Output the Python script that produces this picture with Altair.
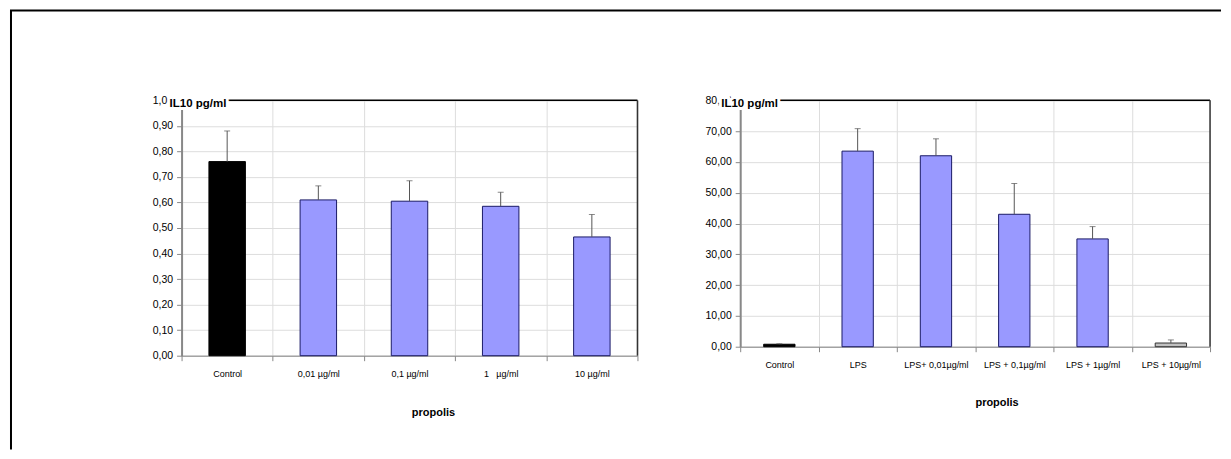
import altair as alt
import pandas as pd

FONT = "Liberation Sans, Arial, sans-serif"

# ---- left panel data ----
left_cats = ["Control", "0,01 µg/ml", "0,1 µg/ml", "1\u00a0\u00a0\u00a0µg/ml", "10 µg/ml"]
left_vals = [0.76, 0.61, 0.605, 0.585, 0.465]
left_errs = [0.12, 0.055, 0.08, 0.055, 0.088]
left_fill = ["#000000", "#9999FF", "#9999FF", "#9999FF", "#9999FF"]
left_stroke = ["#000000", "#1a1a66", "#1a1a66", "#1a1a66", "#1a1a66"]
left_ticks = [0, 0.1, 0.2, 0.3, 0.4, 0.5, 0.6, 0.7, 0.8, 0.9, 1.0]

# ---- right panel data ----
right_cats = ["Control", "LPS", "LPS+ 0,01µg/ml", "LPS + 0,1µg/ml", "LPS + 1µg/ml", "LPS + 10µg/ml"]
right_vals = [0.8, 63.5, 62.0, 43.0, 35.0, 1.2]
right_errs = [0.15, 7.3, 5.5, 10.0, 4.0, 1.0]
right_fill = ["#000000", "#9999FF", "#9999FF", "#9999FF", "#9999FF", "#C0C0C0"]
right_stroke = ["#000000", "#1a1a66", "#1a1a66", "#1a1a66", "#1a1a66", "#333333"]
right_ticks = [0, 10, 20, 30, 40, 50, 60, 70, 80]

y_title = "IL10 pg/ml"
x_title = "propolis"


def panel(cats, vals, errs, fills, strokes, ticks, w, h, ytx, xtx, xty, border=False):
    ymax = ticks[-1]
    df = pd.DataFrame({
        "cat": cats,
        "val": vals,
        "hi": [v + e for v, e in zip(vals, errs)],
        "fill": fills,
        "stroke": strokes,
    })
    xaxis = alt.Axis(
        title=x_title, tickBand="extent", grid=True, labelAngle=0,
        titleX=xtx, titleY=xty, titleBaseline="middle",
        labelPadding=9, labelFontSize=9, labelOverlap=False,
    )
    xscale = alt.Scale(paddingInner=0, paddingOuter=0)
    yaxis = alt.Axis(
        title=None, values=ticks, grid=True, labelPadding=4,
        labelExpr="replace(format(datum.value, '.2f'), '.', ',')",
        domainWidth=2, labelFontSize=10.5, labelOverlap=False, tickCount=len(ticks),
    )
    yscale = alt.Scale(domain=[0, ymax], nice=False, zero=True)
    xenc = alt.X("cat:N", sort=cats, scale=xscale, axis=xaxis)
    base = alt.Chart(df)
    bars = base.mark_bar(width=alt.RelativeBandSize(0.4), strokeWidth=1).encode(
        x=xenc, y=alt.Y("val:Q", scale=yscale, axis=yaxis),
        fill=alt.Fill("fill:N", scale=None),
        stroke=alt.Stroke("stroke:N", scale=None),
    )
    err = base.mark_rule(color="#555555", strokeWidth=1).encode(
        x=xenc, y=alt.Y("val:Q", scale=yscale, axis=yaxis), y2="hi:Q"
    )
    cap = base.mark_tick(size=6, thickness=1, color="#555555").encode(
        x=xenc, y=alt.Y("hi:Q", scale=yscale, axis=yaxis)
    )
    one = alt.Chart(pd.DataFrame({"t": [y_title]}))
    top_frame = one.mark_rule(color="#000000", strokeWidth=1.5).encode(
        y=alt.YDatum(ymax, scale=yscale, axis=yaxis)
    )
    right_frame = one.mark_rule(color="#333333", strokeWidth=1.5).encode(x=alt.value("width"))
    halo = one.mark_text(
        align="left", baseline="middle", font=FONT, fontSize=11.5, fontWeight="bold",
        fill="white", stroke="white", strokeWidth=6,
    ).encode(text="t:N", x=alt.value(ytx), y=alt.value(4))
    txt = one.mark_text(
        align="left", baseline="middle", font=FONT, fontSize=11.5, fontWeight="bold",
        color="black",
    ).encode(text="t:N", x=alt.value(ytx), y=alt.value(4))
    layers = [bars, top_frame, right_frame, err, cap, halo, txt]
    if border:
        b = one.mark_rule(color="#000000", strokeWidth=2)
        layers.append(b.encode(x=alt.value(-171), y=alt.value(-90), y2=alt.value(350)))
        layers.append(b.encode(x=alt.value(-172), x2=alt.value(1042), y=alt.value(-90)))
    return alt.layer(*layers).properties(width=w, height=h)


left = panel(left_cats, left_vals, left_errs, left_fill, left_stroke, left_ticks,
             457, 256, -12, 252, 57, border=True)
right = panel(right_cats, right_vals, right_errs, right_fill, right_stroke, right_ticks,
              471, 247, -19, 257, 56)

chart = alt.hconcat(left, right, spacing=103, bounds="flush").properties(
    padding=0
).configure_view(stroke="transparent").configure_axis(
    labelFont=FONT, titleFont=FONT, titleFontSize=12, titleFontWeight="bold",
    labelColor="#000000", titleColor="#000000",
    domainColor="#000000", tickColor="#000000", tickSize=4,
    gridColor="#9a9a9a", gridWidth=1.2,
).configure_axisY(labelOverlap=False).configure(background="white")

chart.save("out.html", embed_options={"renderer": "svg", "actions": False})
